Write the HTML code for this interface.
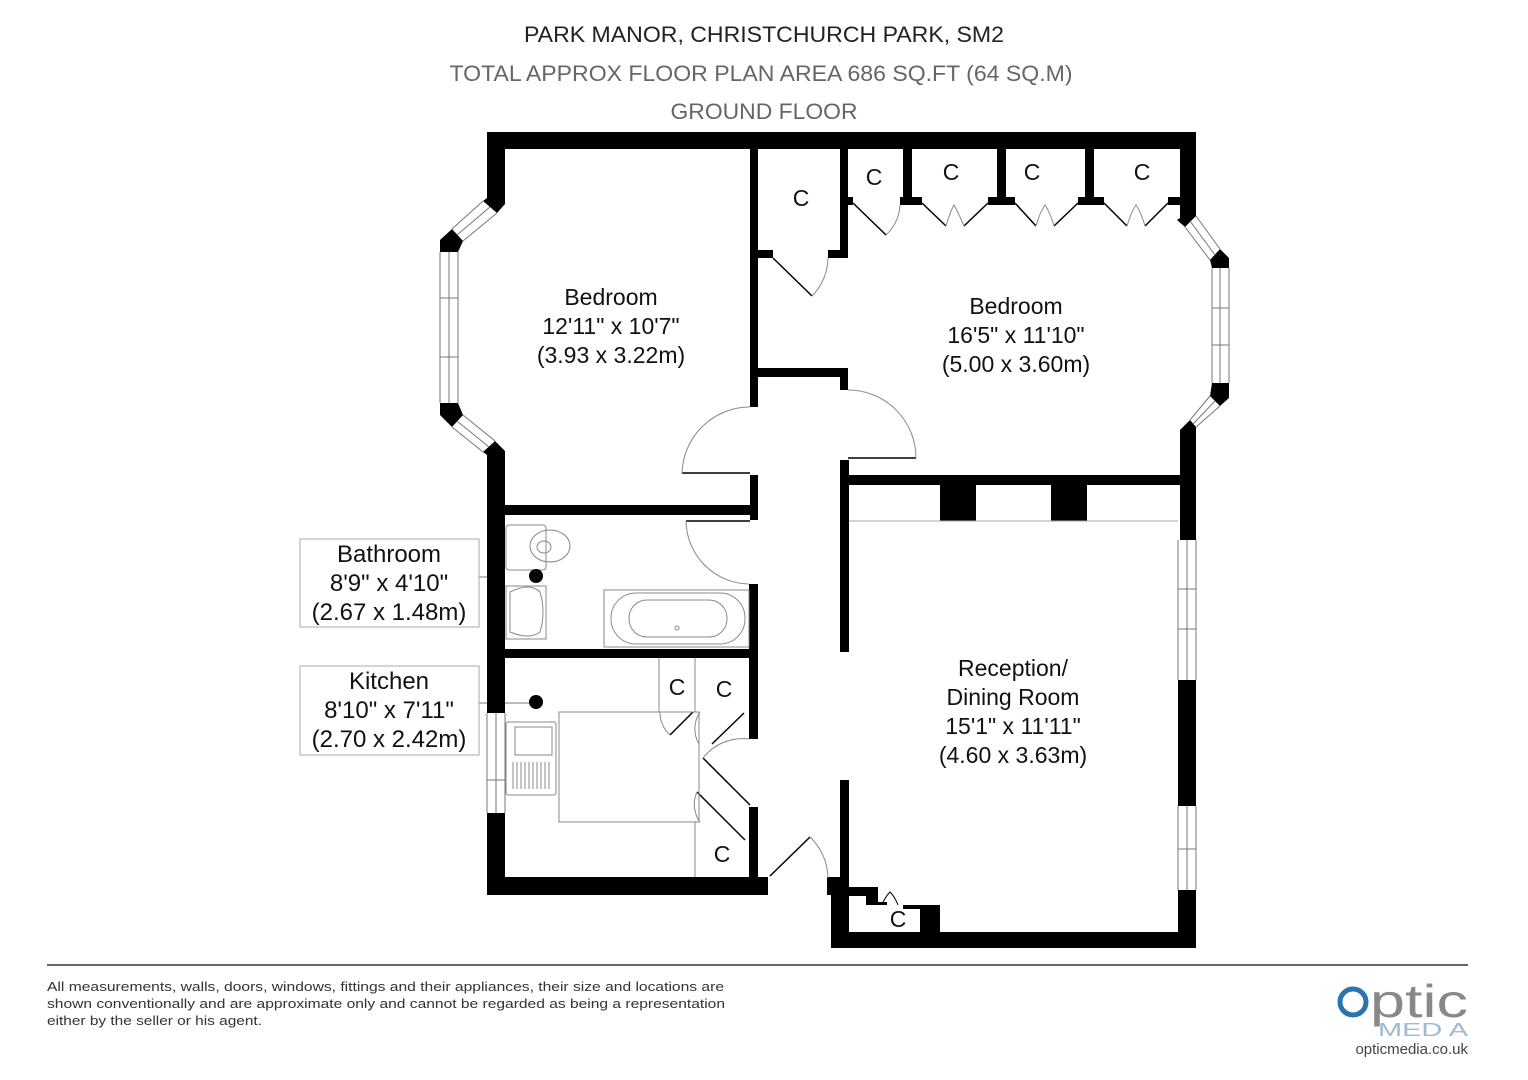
<!DOCTYPE html>
<html><head><meta charset="utf-8"><style>
html,body{margin:0;padding:0;background:#fff;}
svg{display:block;}
text{font-family:"Liberation Sans",Arial,sans-serif;}
</style></head><body>
<svg width="1528" height="1080" viewBox="0 0 1528 1080" xmlns="http://www.w3.org/2000/svg">
<rect width="1528" height="1080" fill="#fff"/>
<!-- titles -->
<text x="764" y="42" font-size="22" text-anchor="middle" fill="#222" textLength="480" lengthAdjust="spacingAndGlyphs">PARK MANOR, CHRISTCHURCH PARK, SM2</text>
<text x="761" y="81" font-size="22" text-anchor="middle" fill="#666" textLength="623" lengthAdjust="spacingAndGlyphs">TOTAL APPROX FLOOR PLAN AREA 686 SQ.FT (64 SQ.M)</text>
<text x="764" y="119" font-size="22" text-anchor="middle" fill="#666" textLength="187" lengthAdjust="spacingAndGlyphs">GROUND FLOOR</text>

<g fill="#000">
<!-- top wall -->
<rect x="487" y="132" width="709" height="17"/>
<!-- left top wall ending in diagonal -->
<polygon points="487,132 505,132 505,204 497,213 483,201 487,198"/>
<!-- left bay blocks -->
<polygon points="440,240 452,229 463,241 458,252 440,252"/>
<polygon points="440,403 458,403 463,415 452,427 440,415"/>
<polygon points="483,452 495,441 505,451 505,470 487,470 487,455"/>
<!-- left wall -->
<rect x="487" y="460" width="18" height="253"/>
<rect x="487" y="813" width="18" height="82"/>
<!-- kitchen bottom wall -->
<rect x="487" y="877" width="281" height="18"/>
<!-- bedroom1 right wall -->
<rect x="750" y="149" width="8" height="258"/>
<rect x="750" y="475" width="8" height="45"/>
<!-- bedroom1 bottom / bathroom top -->
<rect x="505" y="505" width="245" height="10"/>
<!-- bathroom/kitchen divider -->
<rect x="505" y="649" width="253" height="9"/>
<!-- kitchen right wall -->
<rect x="749" y="584" width="9" height="155"/>
<rect x="749" y="807" width="9" height="70"/>
<!-- hall walls -->
<rect x="758" y="368" width="90" height="9"/>
<rect x="840" y="368" width="8" height="22"/>
<rect x="840" y="460" width="9" height="192"/>
<rect x="840" y="780" width="9" height="115"/>
<!-- closet C left in bedroom2 area -->
<rect x="840" y="149" width="8" height="109"/>
<rect x="758" y="250" width="15" height="8"/>
<rect x="828" y="250" width="20" height="8"/>
<!-- closet partitions -->
<rect x="848" y="197" width="5" height="8"/>
<rect x="903" y="149" width="9" height="54"/>
<rect x="900" y="197" width="22" height="8"/>
<rect x="997" y="149" width="9" height="54"/>
<rect x="988" y="197" width="27" height="8"/>
<rect x="1085" y="149" width="9" height="54"/>
<rect x="1078" y="197" width="26" height="8"/>
<rect x="1168" y="197" width="12" height="8"/>
<!-- right wall + bay -->
<polygon points="1180,132 1196,132 1196,216 1185,227 1177,220 1180,218"/>
<polygon points="1210,260 1220,249 1229,258 1229,268 1212,268"/>
<polygon points="1212,383 1229,383 1229,398 1220,406 1210,396"/>
<polygon points="1180,430 1190,420 1196,427 1196,540 1180,540"/>
<!-- bedroom2 bottom wall -->
<rect x="848" y="475" width="332" height="10"/>
<!-- chimney blocks -->
<rect x="940" y="485" width="36" height="36"/>
<rect x="1051" y="485" width="36" height="36"/>
<!-- reception right wall segments -->
<rect x="1178" y="680" width="18" height="126"/>
<rect x="1178" y="890" width="18" height="58"/>
<!-- reception bottom -->
<rect x="831" y="932" width="365" height="16"/>
<rect x="831" y="878" width="18" height="70"/>
<rect x="827" y="877" width="22" height="18"/>
<polygon points="849,887 878,887 878,902 887,902 887,905 866,905 866,896 849,896"/>
<rect x="920" y="905" width="20" height="30"/>
<rect x="903" y="905" width="17" height="4"/>
</g>

<!-- windows -->
<g fill="none" stroke="#777" stroke-width="1">
<line x1="440" y1="252" x2="440" y2="403"/><line x1="449" y1="252" x2="449" y2="403"/><line x1="458" y1="252" x2="458" y2="403"/>
<line x1="440" y1="298" x2="458" y2="298"/><line x1="440" y1="357" x2="458" y2="357"/>
<line x1="452" y1="229" x2="483" y2="201"/><line x1="463" y1="241" x2="497" y2="213"/><line x1="457" y1="235" x2="490" y2="207"/>
<line x1="452" y1="427" x2="483" y2="452"/><line x1="463" y1="415" x2="495" y2="441"/><line x1="457" y1="421" x2="489" y2="447"/>
<line x1="1212" y1="268" x2="1212" y2="383"/><line x1="1220" y1="268" x2="1220" y2="383"/><line x1="1229" y1="268" x2="1229" y2="383"/>
<line x1="1212" y1="308" x2="1229" y2="308"/><line x1="1212" y1="345" x2="1229" y2="345"/>
<line x1="1196" y1="216" x2="1220" y2="249"/><line x1="1185" y1="227" x2="1210" y2="260"/><line x1="1190" y1="221" x2="1215" y2="255"/>
<line x1="1196" y1="427" x2="1220" y2="406"/><line x1="1190" y1="420" x2="1210" y2="396"/><line x1="1193" y1="424" x2="1215" y2="401"/>
<line x1="1178" y1="540" x2="1178" y2="680"/><line x1="1187" y1="540" x2="1187" y2="680"/><line x1="1196" y1="540" x2="1196" y2="680"/>
<line x1="1178" y1="589" x2="1196" y2="589"/><line x1="1178" y1="629" x2="1196" y2="629"/>
<line x1="1178" y1="806" x2="1178" y2="890"/><line x1="1187" y1="806" x2="1187" y2="890"/><line x1="1196" y1="806" x2="1196" y2="890"/>
<line x1="1178" y1="849" x2="1196" y2="849"/>
<line x1="487" y1="713" x2="487" y2="813"/><line x1="496" y1="713" x2="496" y2="813"/><line x1="505" y1="713" x2="505" y2="813"/>
<line x1="487" y1="780" x2="505" y2="780"/>
<line x1="849" y1="521" x2="1178" y2="521" stroke="#aaa"/>
<line x1="479" y1="577" x2="487" y2="577"/><line x1="479" y1="703" x2="487" y2="703"/>
<line x1="505" y1="703" x2="530" y2="703"/>
</g>

<!-- doors -->
<g fill="none" stroke="#000" stroke-width="1.5">
<line x1="773" y1="258" x2="812" y2="296"/>
<line x1="853" y1="203" x2="886" y2="235"/>
<line x1="922" y1="203" x2="946" y2="226"/><line x1="988" y1="203" x2="964" y2="226"/>
<line x1="1015" y1="203" x2="1036" y2="226"/><line x1="1078" y1="203" x2="1054" y2="226"/>
<line x1="1104" y1="203" x2="1127" y2="226"/><line x1="1168" y1="203" x2="1145" y2="226"/>
<line x1="682" y1="473" x2="750" y2="473"/>
<line x1="848" y1="458" x2="916" y2="458"/>
<line x1="686" y1="521" x2="750" y2="521"/>
<line x1="670" y1="735" x2="693" y2="712"/>
<line x1="712" y1="744" x2="744" y2="713"/>
<line x1="703" y1="758" x2="750" y2="805"/>
<line x1="697" y1="792" x2="745" y2="840"/>
<line x1="770" y1="876" x2="810" y2="837"/>
</g>
<g fill="none" stroke="#888" stroke-width="1">
<path d="M812,296 A55,55 0 0 0 828,258"/>
<path d="M886,235 A45,45 0 0 0 900,205"/>
<path d="M946,226 Q950,212 954,205 Q958,212 964,226"/>
<path d="M1036,226 Q1040,212 1045,205 Q1050,212 1054,226"/>
<path d="M1127,226 Q1131,212 1136,205 Q1141,212 1145,226"/>
<path d="M682,473 A68,68 0 0 1 750,407"/>
<path d="M848,390 A68,68 0 0 1 916,458"/>
<path d="M686,521 A64,64 0 0 0 749,584"/>
<path d="M670,735 A30,30 0 0 1 660,712"/>
<path d="M699,744 A30,30 0 0 1 700,712"/>
<path d="M703,758 A50,50 0 0 1 749,739"/>
<path d="M697,792 A30,30 0 0 0 700,822"/>
<path d="M810,837 A58,58 0 0 1 828,878"/>
<path d="M882,905 Q885,897 890,892 Q895,897 898,905" stroke="#000"/>
</g>

<!-- fittings -->
<g fill="none" stroke="#888" stroke-width="1">
<rect x="506" y="525" width="40" height="45" rx="3"/>
<ellipse cx="550" cy="546" rx="20" ry="16"/>
<ellipse cx="544" cy="547" rx="7" ry="6"/>
<rect x="506" y="586" width="40" height="53"/>
<path d="M510,592 Q530,582 540,592 Q546,612 540,632 Q530,640 510,632 Z"/>
<rect x="604" y="590" width="145" height="57"/>
<rect x="611" y="593" width="134" height="51" rx="25"/>
<rect x="629" y="600" width="98" height="37" rx="18"/>
<circle cx="677" cy="628" r="2"/>
<rect x="559" y="712" width="140" height="110"/>
<line x1="659" y1="658" x2="659" y2="712"/>
<line x1="695" y1="658" x2="695" y2="712"/>
<rect x="506" y="722" width="50" height="73" rx="2"/>
<rect x="515" y="727" width="37" height="28"/>
<line x1="695" y1="822" x2="695" y2="877"/>
</g>
<g stroke="#888" stroke-width="1">
<line x1="513" y1="762" x2="513" y2="789"/><line x1="517" y1="762" x2="517" y2="789"/><line x1="521" y1="762" x2="521" y2="789"/><line x1="525" y1="762" x2="525" y2="789"/><line x1="529" y1="762" x2="529" y2="789"/><line x1="533" y1="762" x2="533" y2="789"/><line x1="537" y1="762" x2="537" y2="789"/><line x1="541" y1="762" x2="541" y2="789"/><line x1="545" y1="762" x2="545" y2="789"/><line x1="549" y1="762" x2="549" y2="789"/>
</g>
<circle cx="536" cy="576" r="7" fill="#000"/>
<circle cx="536" cy="702" r="7" fill="#000"/>

<!-- labels -->
<g font-size="23" text-anchor="middle" fill="#111">
<text x="611" y="305">Bedroom</text>
<text x="611" y="334">12'11" x 10'7"</text>
<text x="611" y="363">(3.93 x 3.22m)</text>
<text x="1016" y="314">Bedroom</text>
<text x="1016" y="343">16'5" x 11'10"</text>
<text x="1016" y="372">(5.00 x 3.60m)</text>
<text x="1013" y="676">Reception/</text>
<text x="1013" y="705">Dining Room</text>
<text x="1013" y="734">15'1" x 11'11"</text>
<text x="1013" y="763">(4.60 x 3.63m)</text>
<text x="801" y="206">C</text>
<text x="874" y="185">C</text>
<text x="951" y="180">C</text>
<text x="1032" y="180">C</text>
<text x="1142" y="180">C</text>
<text x="677" y="695">C</text>
<text x="724" y="697">C</text>
<text x="722" y="862">C</text>
<text x="898" y="927">C</text>
</g>
<rect x="300" y="539" width="179" height="88" fill="none" stroke="#aaa"/>
<rect x="300" y="666" width="179" height="89" fill="none" stroke="#aaa"/>
<g font-size="24" text-anchor="middle" fill="#111">
<text x="389" y="562">Bathroom</text>
<text x="389" y="591">8'9" x 4'10"</text>
<text x="389" y="620">(2.67 x 1.48m)</text>
<text x="389" y="689">Kitchen</text>
<text x="389" y="718">8'10" x 7'11"</text>
<text x="389" y="747">(2.70 x 2.42m)</text>
</g>

<!-- footer -->
<line x1="47" y1="965" x2="1468" y2="965" stroke="#666" stroke-width="2"/>
<g font-size="13" fill="#333">
<text x="47" y="991" textLength="677" lengthAdjust="spacingAndGlyphs">All measurements, walls, doors, windows, fittings and their appliances, their size and locations are</text>
<text x="47" y="1008" textLength="678" lengthAdjust="spacingAndGlyphs">shown conventionally and are approximate only and cannot be regarded as being a representation</text>
<text x="47" y="1025" textLength="215" lengthAdjust="spacingAndGlyphs">either by the seller or his agent.</text>
</g>
<!-- logo -->
<circle cx="1353" cy="1002" r="13" fill="none" stroke="#2a74b0" stroke-width="5"/>
<text x="1370" y="1017" font-size="46" fill="#888" textLength="98" lengthAdjust="spacingAndGlyphs">ptic</text>
<text x="1378" y="1036" font-size="18" fill="#9dbbd3" textLength="90" lengthAdjust="spacingAndGlyphs">MED A</text>
<text x="1468" y="1054" font-size="15" fill="#444" text-anchor="end">opticmedia.co.uk</text>
</svg>
</body></html>
